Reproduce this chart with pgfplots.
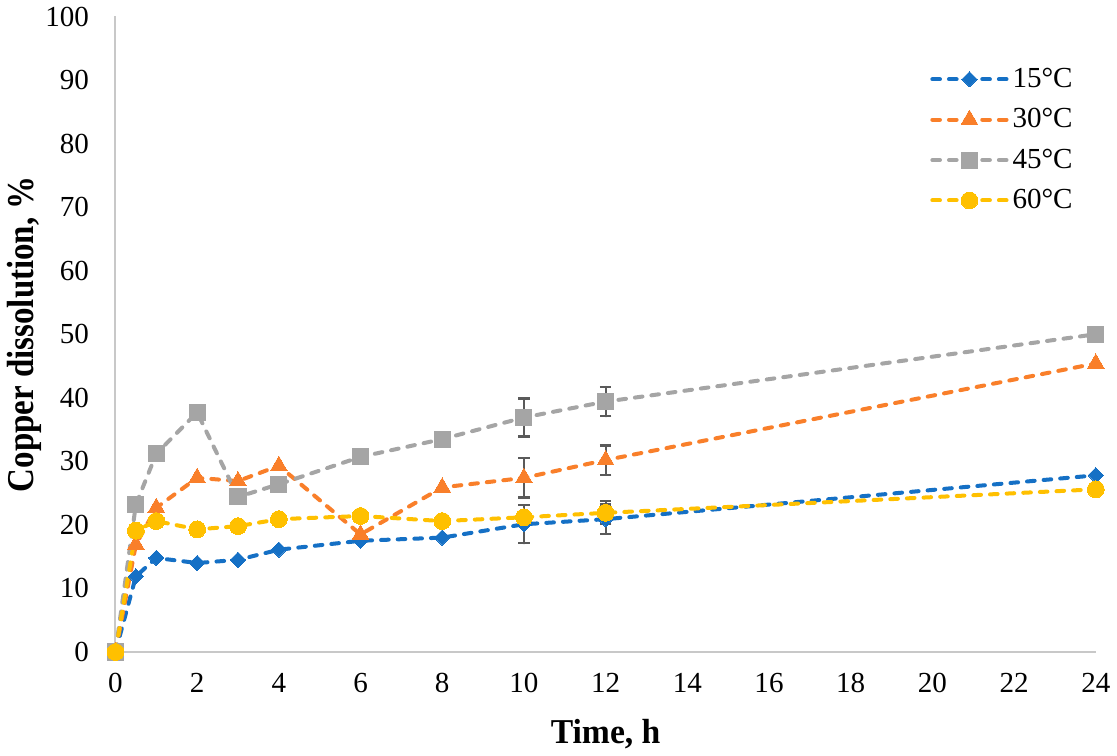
\documentclass[border=0pt]{standalone}
\usepackage{pgfplots}
\pgfplotsset{compat=1.18}
\usepackage{pgfplotstable}
\usepackage{fontspec}
\setmainfont{Liberation Serif}
\newfontfamily\ylabfont{Liberation Serif}[FakeStretch=0.87]
\newfontfamily\xlabfont{Liberation Serif}[FakeStretch=0.965]
\definecolor{cblue}{HTML}{1570C5}
\definecolor{corange}{HTML}{F97F2A}
\definecolor{cgray}{HTML}{A5A5A5}
\definecolor{cyellow}{HTML}{FFC000}
\definecolor{cerr}{HTML}{5A5A5A}
\definecolor{caxis}{HTML}{C8C8C8}
\pgfplotstableread{
t y
0 0
0.5 11.9
1 14.8
2 14.0
3 14.5
4 16.1
6 17.5
8 18.0
10 20.1
12 20.9
24 27.8
}\tA
\pgfplotstableread{
t y
0 0
0.5 16.9
1 22.7
2 27.4
3 26.9
4 29.3
6 18.5
8 25.9
10 27.4
12 30.2
24 45.4
}\tB
\pgfplotstableread{
t y
0 0
0.5 23.2
1 31.2
2 37.7
3 24.4
4 26.4
6 30.7
8 33.5
10 36.9
12 39.4
24 50.0
}\tC
\pgfplotstableread{
t y
0 0
0.5 19.1
1 20.6
2 19.3
3 19.8
4 20.9
6 21.4
8 20.6
10 21.2
12 21.9
24 25.6
}\tD
\pgfplotstableread{
t y e
10 20.1 3.0
12 20.9 2.3
10 27.4 3.1
12 30.2 2.3
10 36.9 3.0
12 39.4 2.3
10 21.2 0.5
12 21.9 1.8
}\tErr
\begin{document}
\begin{tikzpicture}
\begin{axis}[
  scale only axis,
  width=489pt, height=317pt,
  xmin=0, xmax=24, ymin=0, ymax=100,
  xtick={0,2,...,24}, ytick={0,10,...,100},
  axis x line*=bottom, axis y line*=left,
  axis line style={caxis, line width=1pt, -},
  major tick length=0pt,
  tick label style={font=\fontsize{14.5}{17}\selectfont},
  /pgf/number format/assume math mode=true,
  xticklabel style={yshift=-7.2pt},
  yticklabel style={xshift=-9.7pt},
  xlabel={\textbf{Time, h}},
  ylabel={\textbf{Copper dissolution, \%}},
  xlabel style={font=\xlabfont\fontsize{17.4}{20}\selectfont,
    at={(axis description cs:0.5,-0.1435)}, anchor=base},
  ylabel style={font=\ylabfont\fontsize{18.9}{22}\selectfont, inner sep=3.5pt,
    at={(axis description cs:-0.0838,0.5)}, anchor=base},
  clip=false,
  legend style={at={(0.987,0.932)}, anchor=north east, draw=none, fill=none,
    font=\fontsize{14.5}{17}\selectfont, row sep=5pt},
  legend cell align=left,
  legend image code/.code={\draw[mark repeat=2,mark phase=2,#1] plot coordinates {(0pt,0pt)(18.5pt,0pt)(37pt,0pt)};},
  every axis plot/.append style={line width=2pt, dash pattern=on 3.8pt off 4.5pt, line cap=round},
]
\addplot[draw=none, forget plot, mark=none,
  error bars/.cd, y dir=both, y explicit,
  error bar style={cerr, line width=1.1pt, solid},
  error mark options={rotate=90, mark size=2.9pt, cerr, line width=1.1pt, solid}]
  table[x=t, y=y, y error=e]{\tErr};
\addplot[cblue, mark=square*, mark size=2.7pt, mark options={solid, rotate=45, fill=cblue, draw=cblue, line width=0pt}] table[x=t,y=y]{\tA};
\addlegendentry{15°C}
\addplot[corange, mark=triangle*, mark size=4.8pt, mark options={solid, fill=corange, draw=corange, line width=0pt}] table[x=t,y=y]{\tB};
\addlegendentry{30°C}
\addplot[cgray, mark=square*, mark size=4pt, mark options={solid, fill=cgray, draw=cgray, line width=0pt}] table[x=t,y=y]{\tC};
\addlegendentry{45°C}
\addplot[cyellow, mark=*, mark size=4.2pt, mark options={solid, fill=cyellow, draw=cyellow, line width=0pt}] table[x=t,y=y]{\tD};
\addlegendentry{60°C}
\end{axis}
\end{tikzpicture}
\end{document}
